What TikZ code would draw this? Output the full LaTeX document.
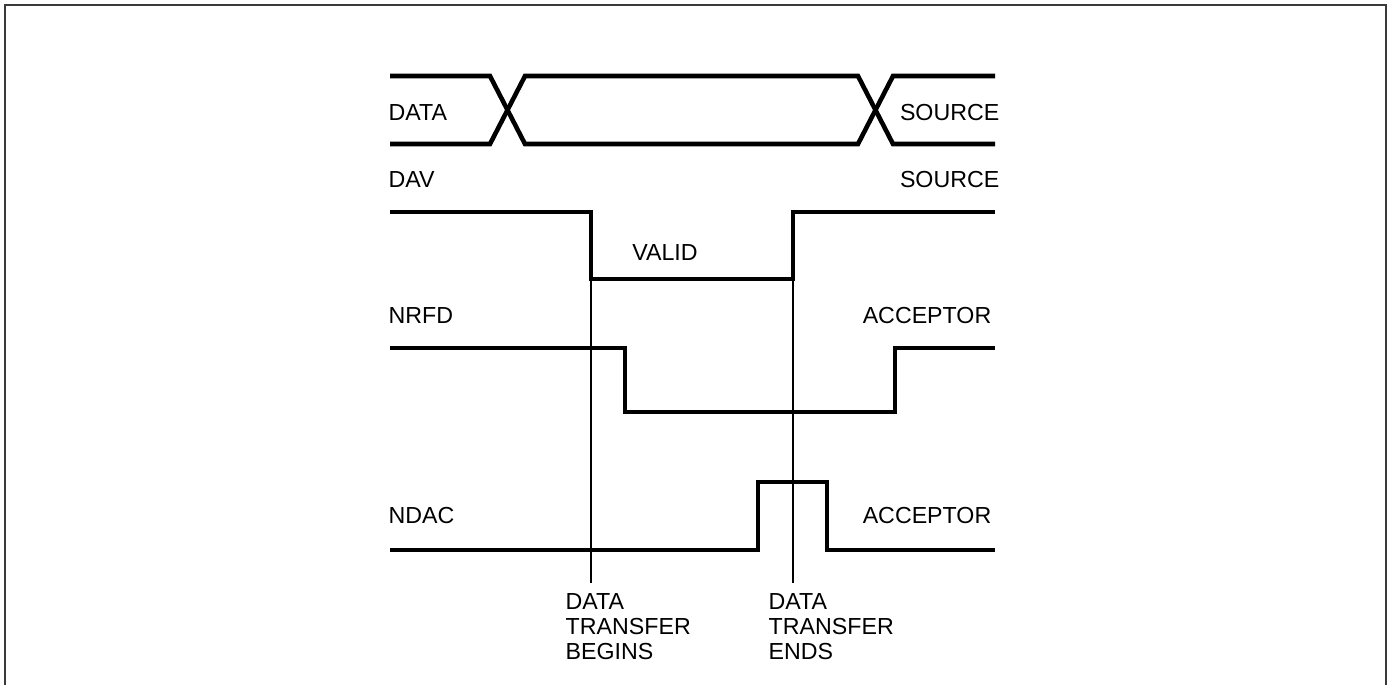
\documentclass[tikz,border=0pt]{standalone}
\usepackage{fontspec}
\setmainfont{Liberation Sans}
\usetikzlibrary{positioning}
\definecolor{framegray}{HTML}{3A3A3A}

\tikzset{
  wave/.style={line width=1.3pt, black},
  marker/.style={line width=0.3pt, black},
  sig/.style={inner sep=0pt, font=\fontsize{6.6}{7.1}\selectfont},
}

\begin{document}
\begin{tikzpicture}[x=0.01cm, y=-0.01cm]
\useasboundingbox (0,0) rectangle (1390,684);
% frame
\draw[framegray, line width=0.55pt] (5,690) -- (5,5) -- (1386,5) -- (1386,690);

% DATA bus
\draw[wave] (390,76) -- (490,76) -- (525,144) -- (858,144) -- (893,76) -- (995,76);
\draw[wave] (390,144) -- (490,144) -- (525,76) -- (858,76) -- (893,144) -- (995,144);
\node[sig, anchor=base west] (data) at (388,120) {DATA};
\node[sig, anchor=base east] (datasrc) at (1000,120) {SOURCE};

% DAV
\node[sig, anchor=base west] (dav) at (388,187) {DAV};
\node[sig, anchor=base east] (davsrc) at (1000,187) {SOURCE};
\draw[wave] (390,212) -- (591,212) -- (591,279) coordinate (davlo) -- (793,279) coordinate (davhi) -- (793,212) -- (995,212);
\node[sig, anchor=base] (valid) at (665,260) {VALID};

% NRFD
\node[sig, anchor=base west] (nrfd) at (388,323) {NRFD};
\node[sig, anchor=base east] (nrfdacc) at (992,323) {ACCEPTOR};
\draw[wave] (390,348) -- (625,348) -- (625,412) -- (895,412) -- (895,348) -- (995,348);

% NDAC
\node[sig, anchor=base west] (ndac) at (388,523) {NDAC};
\node[sig, anchor=base east] (ndacacc) at (992,523) {ACCEPTOR};
\draw[wave] (390,550) -- (758,550) -- (758,482) -- (827,482) -- (827,550) -- (995,550);

% transfer markers
\node[sig, anchor=north west, align=left] (begins) at (565,593) {DATA\\TRANSFER\\BEGINS};
\node[sig, anchor=north west, align=left] (ends) at (768,593) {DATA\\TRANSFER\\ENDS};
\coordinate (bmark) at (591,583);
\coordinate (emark) at (793,583);
\draw[marker] (davlo) -- (bmark);
\draw[marker] (davhi) -- (emark);
\end{tikzpicture}
\end{document}
